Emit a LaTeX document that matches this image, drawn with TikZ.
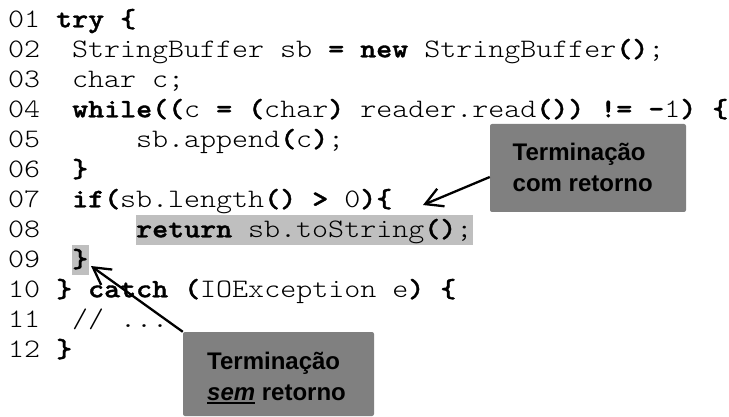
\documentclass[tikz,border=0pt]{standalone}
\usepackage{fontspec}
\setmainfont{Liberation Sans}
\setsansfont{Liberation Sans}
\newfontfamily\codefont{lmmonolt10-regular.otf}[BoldFont=lmmonolt10-bold.otf, BoldFeatures={FakeBold=1.3}, FakeStretch=1.143]
\usetikzlibrary{arrows.meta}
\newcommand\B[1]{{\bfseries #1}}
\newcommand\myul[1]{\setbox0\hbox{#1}\rlap{\rule[-4pt]{\wd0}{2pt}}\box0}
\definecolor{boxgray}{RGB}{128,128,128}
\definecolor{hlgray}{RGB}{191,191,191}
\tikzset{
  code/.style={anchor=base west, inner sep=0pt, font=\codefont\fontsize{26.67}{30}\selectfont},
  callbox/.style={fill=boxgray, rounded corners=2pt, inner sep=0pt},
  calltext/.style={anchor=base west, inner sep=0pt, font=\sffamily\bfseries\fontsize{24}{31}\selectfont},
  hl/.style={fill=hlgray},
  arr/.style={line width=2.3pt, -{Straight Barb[length=17pt,width=19pt]}}
}
\begin{document}
\begin{tikzpicture}[x=1pt,y=-1pt]
\useasboundingbox (0,0) rectangle (729,417);
% highlights
\fill[hl] (136,215) rectangle (473,245);
\fill[hl] (72,245) rectangle (89,275);
% line numbers
\node[code] (n1)  at (8,27.3)  {01};
\node[code] (n2)  at (8,57.3)  {02};
\node[code] (n3)  at (8,87.3)  {03};
\node[code] (n4)  at (8,117.3) {04};
\node[code] (n5)  at (8,147.3) {05};
\node[code] (n6)  at (8,177.3) {06};
\node[code] (n7)  at (8,207.3) {07};
\node[code] (n8)  at (8,237.3) {08};
\node[code] (n9)  at (8,267.3) {09};
\node[code] (n10) at (8,297.3) {10};
\node[code] (n11) at (8,327.3) {11};
\node[code] (n12) at (8,357.3) {12};
% code
\node[code] (c1)  at (56,27.3)   {\B{try \{}};
\node[code] (c2)  at (72,57.3)   {StringBuffer sb \B{= new} StringBuffer\B{()};};
\node[code] (c3)  at (72,87.3)   {char c;};
\node[code] (c4)  at (72,117.3)  {\B{while((}c \B{= (}char\B{)} reader.read\B{()) != -}1\B{) \{}};
\node[code] (c5)  at (136,147.3) {sb.append\B{(}c\B{)};};
\node[code] (c6)  at (72,177.3)  {\B{\}}};
\node[code] (c7)  at (72,207.3)  {\B{if(}sb.length\B{() >} 0\B{)\{}};
\node[code] (c8)  at (136,237.3) {\B{return} sb.toString\B{()};};
\node[code] (c9)  at (72,267.3)  {\B{\}}};
\node[code] (c10) at (56,297.3)  {\B{\} catch (}IOException e\B{) \{}};
\node[code] (c11) at (72,327.3)  {// ...};
\node[code] (c12) at (56,357.3)  {\B{\}}};
% callouts
\node[callbox, minimum width=196pt, minimum height=88pt] (callA) at (588,168) {};
\node[calltext] (callAa) at (512.5,160.7) {Terminação};
\node[calltext] (callAb) at (512.5,191.7) {com retorno};
\node[callbox, minimum width=191pt, minimum height=84pt] (callB) at (278.5,374) {};
\node[calltext] (callBa) at (207,369) {Terminação};
\node[calltext] (callBb) at (207,400) {{\itshape\myul{sem}} retorno};
% arrows
\coordinate (tipA) at (423,205);
\coordinate (tipB) at (91,266);
\draw[arr] ([yshift=-9pt]callA.west) -- (tipA);
\draw[arr] (callB.north west) -- (tipB);
\end{tikzpicture}
\end{document}
